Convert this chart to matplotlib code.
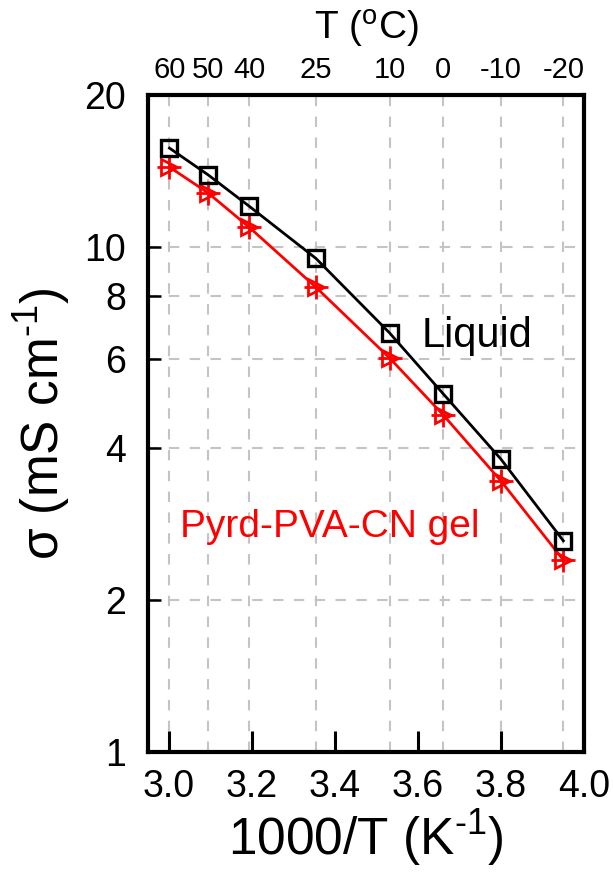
import numpy as np
import matplotlib.pyplot as plt
from matplotlib.ticker import FixedLocator, NullLocator

plt.rcParams['font.family'] = ['Liberation Sans', 'DejaVu Sans']
plt.rcParams['mathtext.fontset'] = 'custom'
plt.rcParams['mathtext.rm'] = 'Liberation Sans'
plt.rcParams['mathtext.it'] = 'Liberation Sans:italic'

# Temperatures (degC) of the measurements
temp_c = np.array([60, 50, 40, 25, 10, 0, -10, -20])
inv_t = 1000.0 / (temp_c + 273.15)

# Ionic conductivity (mS/cm)
sigma_liquid = [15.7, 13.9, 12.05, 9.5, 6.76, 5.12, 3.80, 2.62]
sigma_gel = [14.4, 12.8, 10.95, 8.33, 6.03, 4.65, 3.44, 2.40]

x_ticks = [3.0, 3.2, 3.4, 3.6, 3.8, 4.0]
y_ticks = [1, 2, 4, 6, 8, 10, 20]
grid_y = [2, 4, 6, 8, 10]

fig = plt.figure(figsize=(6.13, 8.75), dpi=100)
ax = fig.add_axes([148 / 613, 1 - 752 / 875, 436 / 613, 657 / 875])

ax.plot(inv_t, sigma_liquid, color='black', lw=2.0, marker='s', ms=11,
        mfc='none', mec='black', mew=2.4, zorder=4)
ax.plot(inv_t, sigma_gel, color='red', lw=2.0, marker='>', ms=12,
        mfc='none', mec='red', mew=2.0, zorder=3)
ax.plot(inv_t, sigma_gel, color='none', marker='+', ms=17,
        mec='red', mew=2.0, zorder=3)

ax.set_yscale('log')
ax.set_xlim(2.95, 4.0)
ax.set_ylim(1, 20)
ax.yaxis.set_major_locator(FixedLocator(y_ticks))
ax.yaxis.set_minor_locator(NullLocator())
ax.set_yticklabels([str(v) for v in y_ticks])
ax.set_xticks(x_ticks)
ax.set_xticklabels(['%.1f' % v for v in x_ticks])

ax.tick_params(axis='x', direction='in', length=15, width=2.2, labelsize=27, pad=12)
ax.tick_params(axis='y', direction='in', length=9, width=1.8, labelsize=27, pad=16)
for s in ax.spines.values():
    s.set_linewidth(3.0)

for v in grid_y:
    ax.axhline(v, color='#c4c4c4', ls=(0, (5, 5)), lw=1.5, zorder=1)

ax.set_xlabel('1000/T (K$^{\\text{-1}}$)', fontsize=37, labelpad=2)
ax.set_ylabel('σ (mS cm$^{\\text{-1}}$)', fontsize=37, labelpad=8)

# top axis in degC
top = ax.twiny()
top.set_xlim(ax.get_xlim())
top.set_xticks(inv_t)
top.set_xticklabels([str(t) for t in temp_c])
top.tick_params(axis='x', length=0, labelsize=21, pad=8)
top.set_xlabel('T ($^{\\text{o}}$C)', fontsize=28, labelpad=12)
for xv in inv_t:
    ax.axvline(xv, color='#c4c4c4', ls=(0, (5, 5)), lw=1.5, zorder=1)

ax.text(3.61, 6.34, 'Liquid', fontsize=30, color='black', ha='left', va='baseline')
ax.text(3.027, 2.666, 'Pyrd-PVA-CN gel', fontsize=28, color='red', ha='left', va='baseline')

fig.savefig('out.png', dpi=100)
